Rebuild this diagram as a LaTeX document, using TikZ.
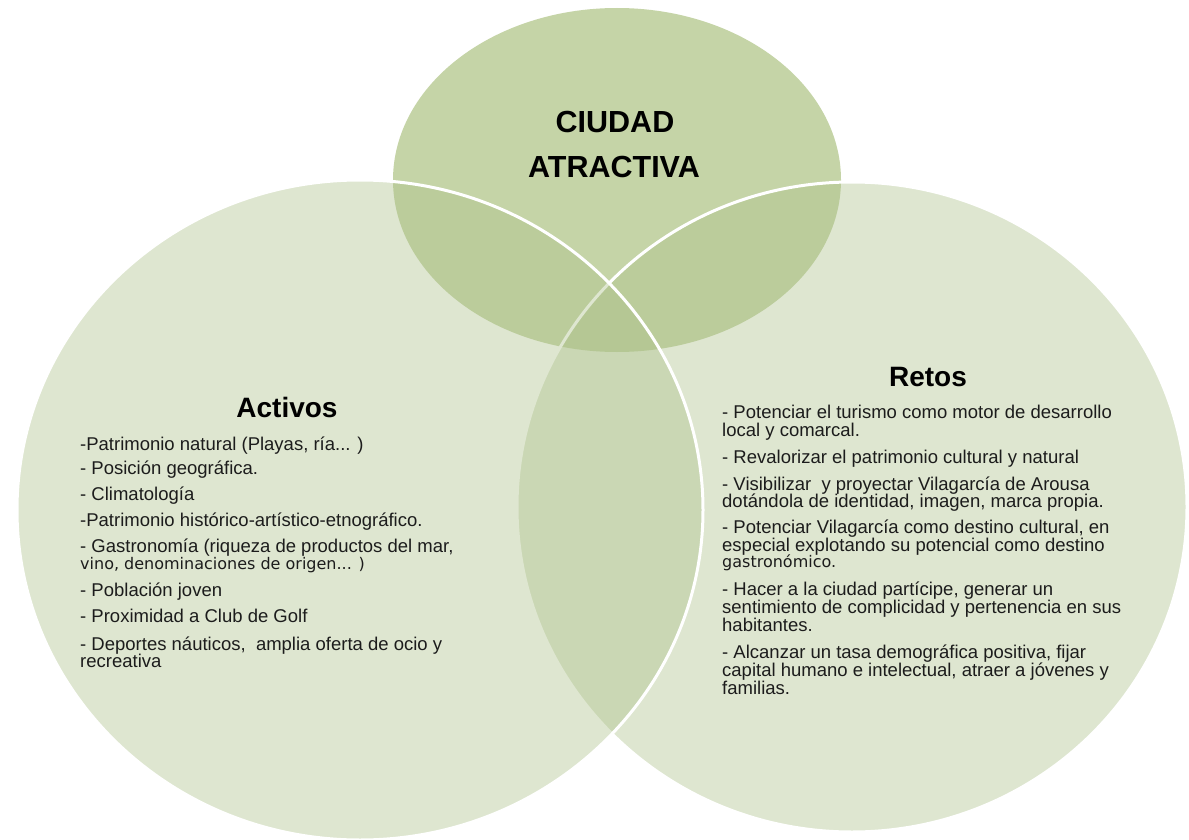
\documentclass[tikz,border=0pt]{standalone}
\usepackage{fontspec}
\setmainfont{Liberation Sans}
\newfontfamily\smallfam{DejaVu Sans}
\definecolor{topfill}{RGB}{197,212,167}
\definecolor{bigfill}{RGB}{173,193,138}
\definecolor{txtcol}{RGB}{28,28,28}
\tikzset{
  bigcircle/.style={fill=bigfill, fill opacity=0.4, draw=white, line width=3pt},
  topcircle/.style={fill=topfill, draw=none},
  headtxt/.style={font=\fontsize{28}{30}\selectfont\bfseries, text=black, inner sep=0pt, anchor=base},
  cityhead/.style={font=\fontsize{30.5}{32}\selectfont\bfseries, text=black, inner sep=0pt, anchor=base},
  bodyline/.style={font=\fontsize{18.5}{20}\selectfont, text=txtcol, inner sep=0pt, anchor=base west},
  smallline/.style={font=\smallfam\fontsize{16}{18}\selectfont, text=txtcol, inner sep=0pt, anchor=base west},
}
\begin{document}
\begin{tikzpicture}[x=1pt,y=-1pt]
\useasboundingbox (0,0) rectangle (1189,840);
\fill[white] (0,0) rectangle (1189,840);
% circles
\path[topcircle] (617,180) ellipse [x radius=224, y radius=172];
\path[bigcircle] (852,507) ellipse [x radius=335, y radius=325];
\path[bigcircle] (360,510) ellipse [x radius=343, y radius=330];
% top title
\node[cityhead] (c1) at (615,133) {CIUDAD};
\node[cityhead] (c2) at (614,178) {ATRACTIVA};
% Activos
\node[headtxt] (act) at (287,417) {Activos};
\node[bodyline] (a1) at (80,450) {-Patrimonio natural (Playas, ría... )};
\node[bodyline] (a2) at (80,474) {- Posición geográfica.};
\node[bodyline] (a3) at (80,500) {- Climatología};
\node[bodyline] (a4) at (80,526) {-Patrimonio histórico-artístico-etnográfico.};
\node[bodyline] (a5) at (80,552) {- Gastronomía (riqueza de productos del mar,};
\node[smallline] (a6) at (80,569) {vino, denominaciones de origen... )};
\node[bodyline] (a7) at (80,596) {- Población joven};
\node[bodyline] (a8) at (80,622) {- Proximidad a Club de Golf};
\node[bodyline] (a9) at (80,650) {- Deportes náuticos,~ amplia oferta de ocio y};
\node[bodyline] (a10) at (80,667) {recreativa};
% Retos
\node[headtxt] (ret) at (928,386) {Retos};
\node[bodyline] (r1) at (722,418) {- Potenciar el turismo como motor de desarrollo};
\node[bodyline] (r2) at (722,436) {local y comarcal.};
\node[bodyline] (r3) at (722,463) {- Revalorizar el patrimonio cultural y natural};
\node[bodyline] (r4) at (722,490) {- Visibilizar~ y proyectar Vilagarcía de Arousa};
\node[bodyline] (r5) at (722,507) {dotándola de identidad, imagen, marca propia.};
\node[bodyline] (r6) at (722,533) {- Potenciar Vilagarcía como destino cultural, en};
\node[bodyline] (r7) at (722,551) {especial explotando su potencial como destino};
\node[smallline] (r8) at (722,567) {gastronómico.};
\node[bodyline] (r9) at (722,595) {- Hacer a la ciudad partícipe, generar un};
\node[bodyline] (r10) at (722,613) {sentimiento de complicidad y pertenencia en sus};
\node[bodyline] (r11) at (722,631) {habitantes.};
\node[bodyline] (r12) at (722,658) {- Alcanzar un tasa demográfica positiva, fijar};
\node[bodyline] (r13) at (722,676) {capital humano e intelectual, atraer a jóvenes y};
\node[bodyline] (r14) at (722,694) {familias.};
\end{tikzpicture}
\end{document}
